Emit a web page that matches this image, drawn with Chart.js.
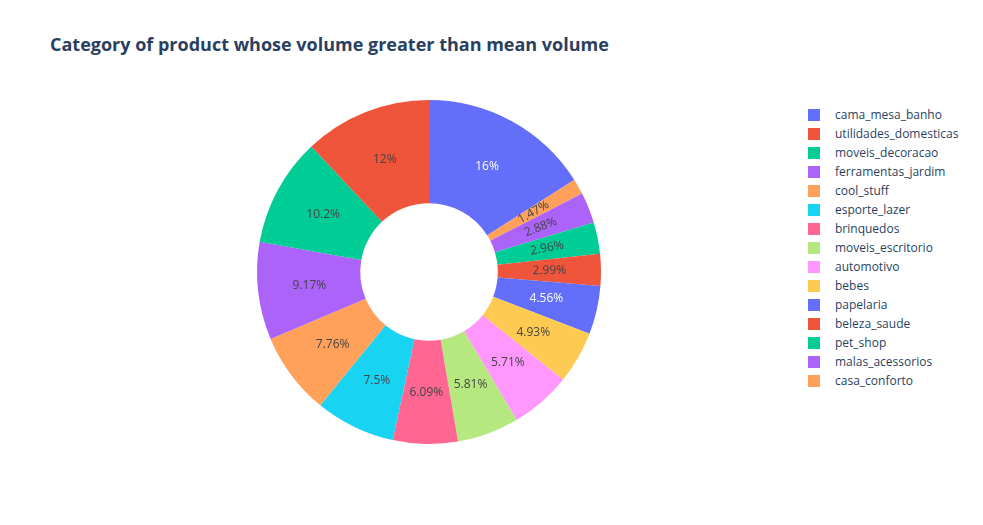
<!DOCTYPE html>
<html>
<head>
<meta charset="utf-8">
<script src="https://cdn.jsdelivr.net/npm/chart.js@4"></script>
<style>
  body { margin: 0; width: 983px; height: 525px; background: #fff; font-family: "Open Sans", sans-serif; position: relative; overflow: hidden; }
  #title { position: absolute; left: 50px; top: 32px; font-size: 18px; font-weight: bold; color: #2a3f5f; }
  #wrap { position: absolute; left: 255px; top: 98px; width: 348px; height: 348px; }
  #legend { position: absolute; left: 808px; top: 105px; font-size: 12px; color: #2a3f5f; }
  .item { height: 19px; display: flex; align-items: center; }
  .sw { width: 12px; height: 12px; margin-right: 15px; }
</style>
</head>
<body>
<div id="title">Category of product whose volume greater than mean volume</div>
<div id="wrap"><canvas id="pie"></canvas></div>
<div id="legend"></div>
<script>
const categories = ["cama_mesa_banho", "utilidades_domesticas", "moveis_decoracao", "ferramentas_jardim", "cool_stuff", "esporte_lazer", "brinquedos", "moveis_escritorio", "automotivo", "bebes", "papelaria", "beleza_saude", "pet_shop", "malas_acessorios", "casa_conforto"];
const shares = [16, 12, 10.2, 9.17, 7.76, 7.5, 6.09, 5.81, 5.71, 4.93, 4.56, 2.99, 2.96, 2.88, 1.47];
const palette = ["#636efa", "#EF553B", "#00cc96", "#ab63fa", "#FFA15A", "#19d3f3", "#FF6692", "#B6E880", "#FF97FF", "#FECB52"];
const colors = categories.map((c, i) => palette[i % palette.length]);

// legend
const legend = document.getElementById("legend");
categories.forEach((c, i) => {
  legend.innerHTML += `<div class="item"><div class="sw" style="background:${colors[i]}"></div>${c}</div>`;
});

// plotly draws the slices the other way round
const rev = (a) => a.slice().reverse();
const first = shares[0];

const sliceLabels = {
  id: "sliceLabels",
  afterDatasetsDraw(chart) {
    const ctx = chart.ctx;
    const meta = chart.getDatasetMeta(0);
    const data = chart.data.datasets[0].data;
    const cols = chart.data.datasets[0].backgroundColor;
    meta.data.forEach((arc, i) => {
      const mid = (arc.startAngle + arc.endAngle) / 2;
      const r = (arc.innerRadius + arc.outerRadius) / 2;
      const x = arc.x + Math.cos(mid) * r;
      const y = arc.y + Math.sin(mid) * r;
      const dark = cols[i] === "#636efa";
      ctx.save();
      ctx.fillStyle = dark ? "#fff" : "#444";
      ctx.font = "12px 'Open Sans'";
      ctx.textAlign = "center";
      ctx.textBaseline = "middle";
      ctx.translate(x, y);
      if (data[i] < 3.5) {
        let a = mid;
        if (Math.cos(a) < 0) a += Math.PI;
        ctx.rotate(a);
      }
      ctx.fillText(data[i] + "%", 0, 0);
      ctx.restore();
    });
  }
};

new Chart(document.getElementById("pie"), {
  type: "doughnut",
  data: {
    labels: rev(categories),
    datasets: [{
      data: rev(shares),
      backgroundColor: rev(colors),
      borderColor: "#fff",
      borderWidth: 0
    }]
  },
  options: {
    responsive: true,
    maintainAspectRatio: false,
    animation: false,
    cutout: "40%",
    rotation: first * 3.6,
    layout: { padding: 2 },
    plugins: { legend: { display: false }, tooltip: { enabled: false } }
  },
  plugins: [sliceLabels]
});
</script>
</body>
</html>
